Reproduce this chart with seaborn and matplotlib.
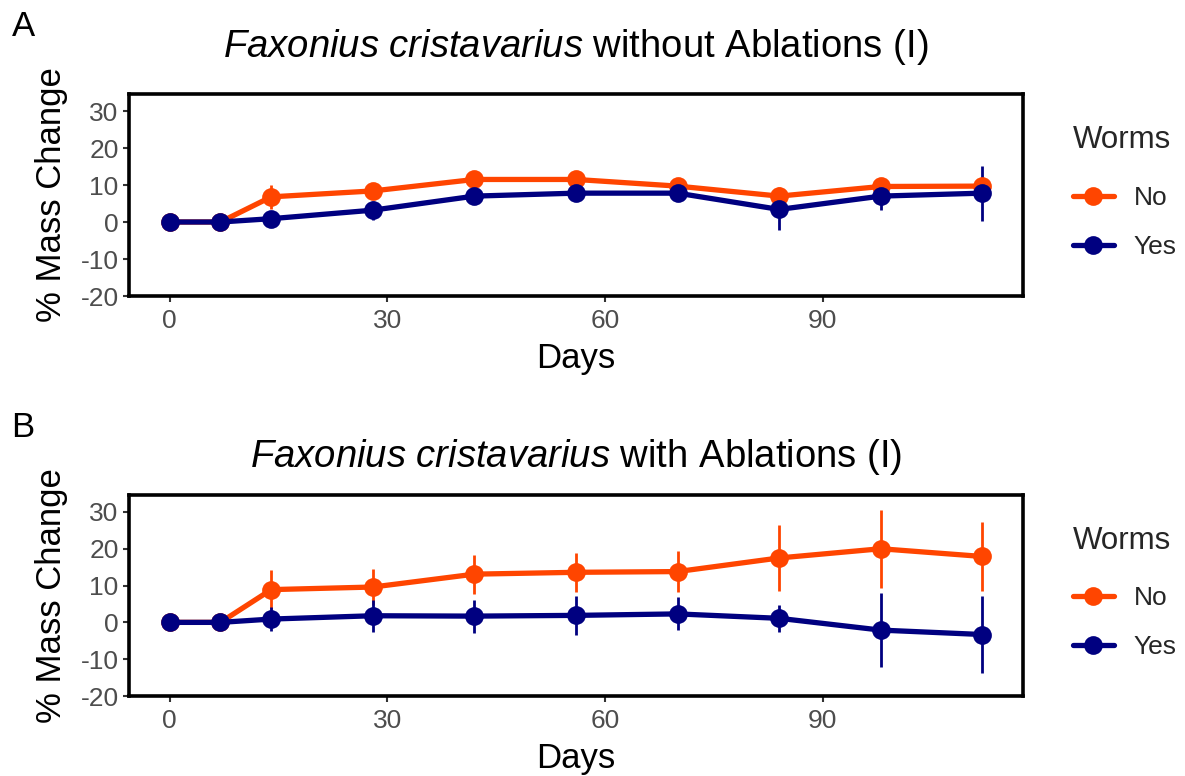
import numpy as np
import pandas as pd
import matplotlib
matplotlib.use("Agg")
import matplotlib.pyplot as plt
from matplotlib.lines import Line2D
import seaborn as sns

# ---------------- data ----------------
days = [0, 7, 14, 28, 42, 56, 70, 84, 98, 112]
worm_levels = ["No", "Yes"]

a_no_mean = [0, 0, 6.8, 8.4, 11.5, 11.5, 9.7, 7.0, 9.6, 9.7]
a_no_se = [0, 0, 3.3, 1.5, 1.5, 1.5, 1.2, 2.5, 1.8, 1.8]
a_yes_mean = [0, 0, 0.9, 3.2, 7.0, 7.8, 7.8, 3.4, 7.0, 7.8]
a_yes_se = [0, 0, 1.0, 2.6, 1.5, 1.5, 1.8, 5.6, 3.8, 7.4]

b_no_mean = [0, 0, 8.9, 9.6, 13.1, 13.6, 13.8, 17.5, 20.0, 17.9]
b_no_se = [0, 0, 5.2, 5.0, 5.3, 5.3, 5.5, 8.9, 10.6, 9.3]
b_yes_mean = [0, 0, 0.9, 1.8, 1.7, 1.9, 2.3, 1.1, -2.1, -3.3]
b_yes_se = [0, 0, 3.2, 4.3, 4.5, 5.2, 4.5, 3.7, 10.1, 10.5]

titles = [r"$\it{Faxonius\ cristavarius}$ without Ablations (I)",
          r"$\it{Faxonius\ cristavarius}$ with Ablations (I)"]
panel_letters = ["A", "B"]
y_ticks = [-20, -10, 0, 10, 20, 30]
x_ticks = [0, 30, 60, 90]

colors = {"No": "#FF4500", "Yes": "#000080"}

# ---------------- style ----------------
sns.set_theme(style="white")
plt.rcParams["font.family"] = ["Liberation Sans", "DejaVu Sans"]
plt.rcParams["mathtext.fontset"] = "custom"
plt.rcParams["mathtext.rm"] = "Liberation Sans"
plt.rcParams["mathtext.it"] = "Liberation Sans:italic"
plt.rcParams["axes.unicode_minus"] = False

W, H = 1185, 776
fig = plt.figure(figsize=(W / 100, H / 100), dpi=100)
fig.patch.set_facecolor("white")


def make_df(no_m, no_s, yes_m, yes_s):
    rows = []
    for lvl, m, s in (("No", no_m, no_s), ("Yes", yes_m, yes_s)):
        for d, mm, ss in zip(days, m, s):
            rows.append({"Days": d, "Change": mm, "SE": ss, "Worms": lvl})
    return pd.DataFrame(rows)


panels = [
    (make_df(a_no_mean, a_no_se, a_yes_mean, a_yes_se), 94, 296, 47, 27),
    (make_df(b_no_mean, b_no_se, b_yes_mean, b_yes_se), 495, 696, 457, 427),
]

left_px, right_px = 129, 1023

for i, (df, top_px, bot_px, title_px, letter_px) in enumerate(panels):
    ax = fig.add_axes([left_px / W, 1 - bot_px / H,
                       (right_px - left_px) / W, (bot_px - top_px) / H])
    # error bars
    for lvl in worm_levels:
        sub = df[df["Worms"] == lvl]
        ax.vlines(sub["Days"], sub["Change"] - sub["SE"], sub["Change"] + sub["SE"],
                  color=colors[lvl], linewidth=2.0, zorder=2 + worm_levels.index(lvl))
    sns.lineplot(data=df, x="Days", y="Change", hue="Worms", hue_order=worm_levels,
                 palette=colors, marker="o", markersize=13.5, markeredgewidth=0,
                 linewidth=3.8, legend=False, ax=ax, zorder=4, errorbar=None)
    ax.set_xlim(-5.6, 117.6)
    ax.set_ylim(-20, 34.6)
    ax.set_xticks(x_ticks)
    ax.set_yticks(y_ticks)
    ax.tick_params(axis="both", which="major", length=4.5, width=1.5,
                   color="#333333", labelcolor="#4D4D4D", labelsize=19, pad=3,
                   bottom=True, left=True)
    ax.tick_params(axis="x", pad=5)
    for sp in ax.spines.values():
        sp.set_visible(True)
        sp.set_color("black")
        sp.set_linewidth(2.6)
    ax.grid(False)
    ax.set_facecolor("white")
    ax.set_xlabel("Days", fontsize=25, color="black", labelpad=6)
    ax.set_ylabel("% Mass Change", fontsize=25, color="black", labelpad=9)

    # title
    fig.text(((left_px + right_px) / 2) / W, 1 - title_px / H, titles[i],
             ha="center", va="center", fontsize=27.5, color="black")

    # panel letter
    fig.text(23 / W, 1 - letter_px / H, panel_letters[i],
             fontsize=25, ha="center", va="center", color="black")

    # legend
    handles = [Line2D([0], [0], color=colors[l], linewidth=3.8, marker="o",
                      markersize=13.5, markeredgewidth=0) for l in worm_levels]
    leg = ax.legend(handles, worm_levels, title="Worms", loc="center left",
                    bbox_to_anchor=(1073 / W, 1 - ((top_px + bot_px) / 2 - 3) / H),
                    bbox_transform=fig.transFigure, frameon=False,
                    fontsize=19, title_fontsize=22.5, handlelength=1.55,
                    handletextpad=0.75, labelspacing=0.95, alignment="left",
                    borderpad=0, borderaxespad=0)
    leg._legend_box.sep = 22

fig.savefig("out.png", dpi=100, facecolor="white")
